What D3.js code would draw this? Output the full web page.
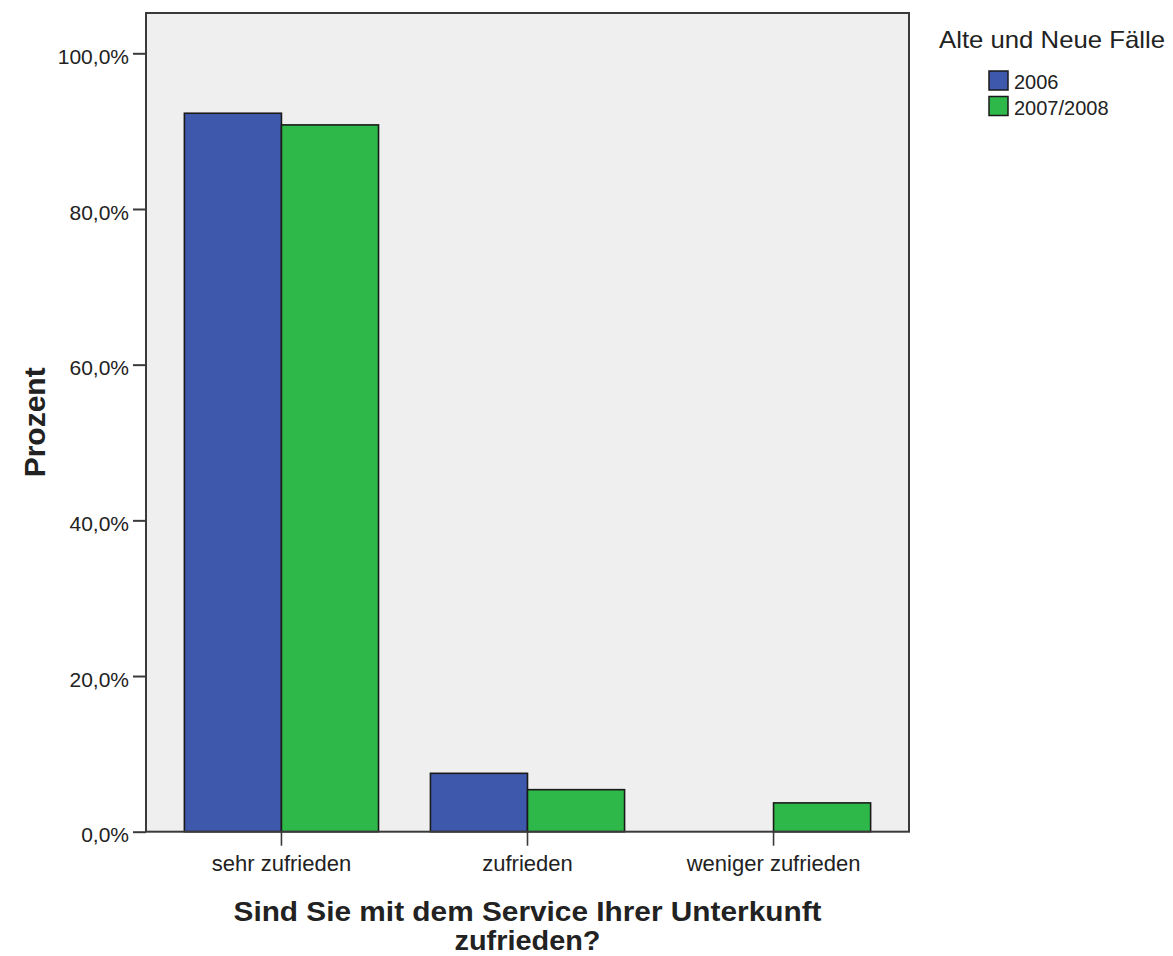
<!DOCTYPE html>
<html>
<head>
<meta charset="utf-8">
<script src="https://cdn.jsdelivr.net/npm/d3@7"></script>
<style>
  html, body { margin: 0; padding: 0; background: #ffffff; }
  svg { display: block; }
  text { font-family: "Liberation Sans", Arial, sans-serif; fill: #222; }
</style>
</head>
<body>
<svg id="chart" width="1173" height="956"></svg>
<script>
// ---- data ----
const categories = ["sehr zufrieden", "zufrieden", "weniger zufrieden"];
const seriesNames = ["2006", "2007/2008"];
const values2006 = [92.3, 7.5, 0.0];
const values2007_2008 = [90.8, 5.4, 3.7];
const yTicks = [0, 20, 40, 60, 80, 100];
const colors = ["#3e58ab", "#2fb84a"];
const legendTitle = "Alte und Neue Fälle";
const yTitle = "Prozent";
const xTitleLines = ["Sind Sie mit dem Service Ihrer Unterkunft", "zufrieden?"];

const seriesValues = [values2006, values2007_2008];

// ---- layout ----
const svg = d3.select("#chart");
const plot = { left: 146, top: 13, right: 909, bottom: 831.7 };

const y = d3.scaleLinear().domain([0, 100]).range([plot.bottom, 53.3]);
const x0 = d3.scaleBand().domain(categories).range([plot.left, plot.right])
  .paddingInner(0.211).paddingOuter(0.156);
const x1 = d3.scaleBand().domain(seriesNames).range([0, x0.bandwidth()]);

// plot background
svg.append("rect")
  .attr("x", plot.left).attr("y", plot.top)
  .attr("width", plot.right - plot.left).attr("height", plot.bottom - plot.top)
  .attr("fill", "#efefef");

// bars
const groups = svg.append("g").selectAll("g")
  .data(categories).join("g")
  .attr("transform", d => `translate(${x0(d)},0)`);

groups.selectAll("rect")
  .data((c, i) => seriesNames.map((s, j) => ({ s, j, v: seriesValues[j][i] })))
  .join("rect")
  .attr("x", d => x1(d.s))
  .attr("y", d => y(d.v))
  .attr("width", x1.bandwidth())
  .attr("height", d => y(0) - y(d.v))
  .attr("fill", d => colors[d.j])
  .attr("stroke", "#1a1a1a")
  .attr("stroke-width", 1.6);

// frame
svg.append("rect")
  .attr("x", plot.left).attr("y", plot.top)
  .attr("width", plot.right - plot.left).attr("height", plot.bottom - plot.top)
  .attr("fill", "none").attr("stroke", "#3a3a3a").attr("stroke-width", 2);

// y axis
const yAxis = d3.axisLeft(y).tickValues(yTicks).tickSize(13).tickPadding(4)
  .tickFormat(d => d3.format(".1f")(d).replace(".", ",") + "%");
const gy = svg.append("g").attr("transform", `translate(${plot.left},0)`).call(yAxis);
gy.select(".domain").remove();
gy.selectAll(".tick line").attr("stroke", "#3a3a3a").attr("stroke-width", 2);
gy.selectAll(".tick text")
  .attr("font-size", 21).attr("fill", "#222")
  .attr("font-family", "'Liberation Sans', Arial, sans-serif")
  .attr("dy", "0.48em");

// x axis
const xAxis = d3.axisBottom(x0).tickSize(14).tickPadding(7);
const gx = svg.append("g").attr("transform", `translate(0,${plot.bottom})`).call(xAxis);
gx.select(".domain").remove();
gx.selectAll(".tick line").attr("stroke", "#3a3a3a").attr("stroke-width", 1.6);
gx.selectAll(".tick text")
  .attr("font-size", 22).attr("fill", "#222")
  .attr("font-family", "'Liberation Sans', Arial, sans-serif")
  .attr("dy", "0.85em");

// y title
svg.append("text")
  .attr("transform", `translate(45,${(plot.top + plot.bottom) / 2}) rotate(-90)`)
  .attr("text-anchor", "middle")
  .attr("font-size", 30).attr("font-weight", "bold").attr("fill", "#111")
  .text(yTitle);

// x title
const cx = (plot.left + plot.right) / 2;
svg.append("text")
  .attr("x", cx).attr("y", 921)
  .attr("text-anchor", "middle")
  .attr("font-size", 27).attr("font-weight", "bold").attr("fill", "#111")
  .attr("textLength", 588).attr("lengthAdjust", "spacingAndGlyphs")
  .text(xTitleLines[0]);
svg.append("text")
  .attr("x", cx).attr("y", 950)
  .attr("text-anchor", "middle")
  .attr("font-size", 27).attr("font-weight", "bold").attr("fill", "#111")
  .attr("textLength", 146).attr("lengthAdjust", "spacingAndGlyphs")
  .text(xTitleLines[1]);

// legend
svg.append("text")
  .attr("x", 939).attr("y", 48)
  .attr("font-size", 24).attr("fill", "#222")
  .attr("textLength", 226).attr("lengthAdjust", "spacingAndGlyphs")
  .text(legendTitle);

const leg = svg.append("g").selectAll("g")
  .data(seriesNames).join("g")
  .attr("transform", (d, i) => `translate(989,${71 + i * 25.5})`);
leg.append("rect")
  .attr("width", 19).attr("height", 19)
  .attr("fill", (d, i) => colors[i])
  .attr("stroke", "#1a1a1a").attr("stroke-width", 1.5);
leg.append("text")
  .attr("x", 25).attr("y", 18)
  .attr("font-size", 20).attr("fill", "#222")
  .text(d => d);
</script>
</body>
</html>
